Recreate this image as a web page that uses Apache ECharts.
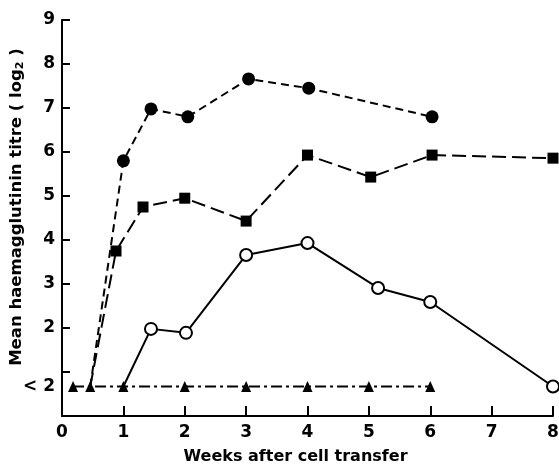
<!DOCTYPE html>
<html>
<head>
<meta charset="utf-8">
<script src="https://cdn.jsdelivr.net/npm/echarts@6/dist/echarts.min.js"></script>
<style>
  html, body { margin: 0; padding: 0; background: #fff; }
  #chart { width: 559px; height: 466px; }
</style>
</head>
<body>
<div id="chart"></div>
<script>
// Weeks after transfer and titres (log2); 0.67 marks the "<2" baseline level
const BELOW = 0.67;

const filledCircleWeeks = [0.46, 1, 1.45, 2.05, 3.04, 4.02, 6.03];
const filledCircleTitre = [BELOW, 5.8, 6.98, 6.8, 7.66, 7.45, 6.8];

const squareWeeks = [0.46, 0.88, 1.32, 2, 3, 4, 5.03, 6.03, 8];
const squareTitre = [BELOW, 3.75, 4.75, 4.95, 4.43, 5.93, 5.43, 5.93, 5.86];

const openCircleWeeks = [1, 1.45, 2.02, 3, 4, 5.15, 6, 8];
const openCircleTitre = [BELOW, 1.98, 1.89, 3.66, 3.93, 2.91, 2.59, BELOW];

const triangleWeeks = [0.18, 0.46, 1, 2, 3, 4, 5, 6];
const triangleTitre = [BELOW, BELOW, BELOW, BELOW, BELOW, BELOW, BELOW, BELOW];

const yLabelValues = [BELOW, 2, 3, 4, 5, 6, 7, 8, 9];
const yTickValues = [1, 2, 3, 4, 5, 6, 7, 8, 9];
const xTickValues = [1, 2, 3, 4, 5, 6, 7, 8];

const FONT = 'DejaVu Sans';

function pairs(xs, ys, hideFirst) {
  return xs.map((x, i) => {
    const p = { value: [x, ys[i]] };
    if (hideFirst && i === 0) p.symbol = 'none';
    return p;
  });
}

const chart = echarts.init(document.getElementById('chart'));
chart.setOption({
  animation: false,
  backgroundColor: '#fff',
  grid: { left: 62, right: 6, top: 20, bottom: 50, outerBoundsMode: 'none', containLabel: false },
  xAxis: {
    type: 'value',
    min: 0, max: 8, interval: 1,
    name: 'Weeks after cell transfer',
    nameLocation: 'middle',
    nameGap: 33,
    nameMoveOverlap: false,
    nameTextStyle: { fontFamily: FONT, fontSize: 16, fontWeight: 'bold', color: '#000', padding: [0, 24, 0, 0] },
    axisLine: { lineStyle: { color: '#000', width: 2 } },
    axisTick: { inside: true, length: 10, customValues: xTickValues, lineStyle: { color: '#000', width: 2 } },
    axisLabel: { fontFamily: FONT, fontSize: 17, fontWeight: 'bold', color: '#000', margin: 8 },
    splitLine: { show: false }
  },
  yAxis: {
    type: 'value',
    min: 0, max: 9, interval: 1,
    name: 'Mean haemagglutinin titre ( log{sub|2} )',
    nameLocation: 'middle',
    nameRotate: 90,
    nameGap: 36,
    nameMoveOverlap: false,
    nameTextStyle: {
      fontFamily: FONT, fontSize: 16.5, fontWeight: 'bold', color: '#000', padding: [0, 0, 0, 22],
      rich: { sub: { fontFamily: FONT, fontSize: 11, fontWeight: 'bold', color: '#000', verticalAlign: 'bottom', padding: [8, 0, 0, 0] } }
    },
    axisLine: { show: true, lineStyle: { color: '#000', width: 2 } },
    axisTick: { inside: true, length: 8, customValues: yTickValues, lineStyle: { color: '#000', width: 2 } },
    axisLabel: {
      fontFamily: FONT, fontSize: 17, fontWeight: 'bold', color: '#000', margin: 7,
      customValues: yLabelValues,
      formatter: v => (Math.abs(v - BELOW) < 1e-6 ? '< 2' : String(v))
    },
    splitLine: { show: false }
  },
  series: [
    {
      type: 'line',
      data: pairs(squareWeeks, squareTitre, true),
      symbol: 'rect', symbolSize: 11,
      lineStyle: { color: '#000', width: 2, type: [14, 6] },
      itemStyle: { color: '#000' },
      z: 2
    },
    {
      type: 'line',
      data: pairs(filledCircleWeeks, filledCircleTitre, true),
      symbol: 'circle', symbolSize: 13,
      lineStyle: { color: '#000', width: 2, type: [8, 5] },
      itemStyle: { color: '#000' },
      z: 3
    },
    {
      type: 'line',
      data: pairs(openCircleWeeks, openCircleTitre, true),
      symbol: 'circle', symbolSize: 12,
      showAllSymbol: true,
      lineStyle: { color: '#000', width: 2 },
      itemStyle: { color: '#fff', borderColor: '#000', borderWidth: 2 },
      z: 4
    },
    {
      type: 'line',
      data: pairs(triangleWeeks, triangleTitre, false),
      symbol: 'triangle', symbolSize: [10, 11],
      lineStyle: { color: '#000', width: 2, type: [11, 4, 3, 4] },
      itemStyle: { color: '#000' },
      z: 5
    }
  ]
});
</script>
</body>
</html>
